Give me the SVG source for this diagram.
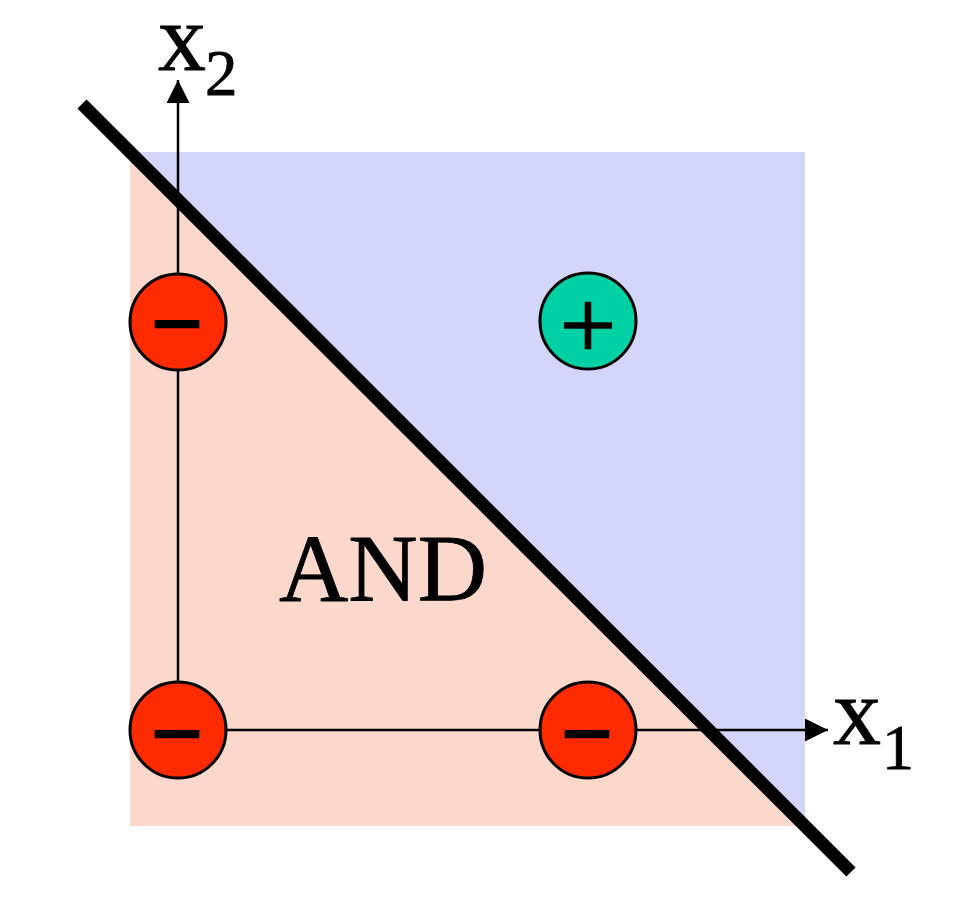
<svg xmlns="http://www.w3.org/2000/svg" width="960" height="918" viewBox="0 0 960 918">
  <defs>
    <marker id="arrow" markerWidth="24" markerHeight="24" refX="23" refY="11.5" orient="auto" markerUnits="userSpaceOnUse">
      <path d="M0,0 L23,11.5 L0,23 Z" fill="#000"/>
    </marker>
    <style>
      .lbl { font-family: "Liberation Serif", "Times New Roman", serif; fill: #000; stroke: #000; stroke-width: 0.8; }
      .neg { fill: #FF2B00; stroke: #000; stroke-width: 3; }
      .pos { fill: #00D1A4; stroke: #000; stroke-width: 3; }
      .axis { stroke: #000; stroke-width: 2.5; fill: none; }
      .sign { font-family: "Liberation Serif", "Times New Roman", serif; fill: #000; text-anchor: middle; stroke: #000; }
    </style>
  </defs>
  <rect width="960" height="918" fill="#fff"/>
  <g id="regions">
    <rect x="130" y="152" width="675" height="674" fill="#D4D5FB"/>
    <polygon points="130,152 130,826 804,826" fill="#FCD8CC"/>
  </g>
  <g id="connectors">
    <line class="axis" x1="178" y1="730" x2="178" y2="80" marker-end="url(#arrow)"/>
    <line class="axis" x1="178" y1="730" x2="828" y2="730" marker-end="url(#arrow)"/>
    <line x1="82" y1="104" x2="851" y2="872" stroke="#000" stroke-width="13"/>
  </g>
  <g id="label-x2">
    <text class="lbl" x="158" y="70" font-size="96">x</text>
    <text class="lbl" x="205" y="95" font-size="65">2</text>
  </g>
  <g id="label-x1">
    <text class="lbl" x="833" y="744" font-size="96">x</text>
    <text class="lbl" x="882" y="769" font-size="64">1</text>
  </g>
  <g id="label-and">
    <text class="lbl" x="279" y="601" font-size="96">AND</text>
  </g>
  <g id="node-neg-01">
    <circle class="neg" cx="178" cy="322" r="48"/>
    <text class="sign" x="177" y="343" font-size="82" font-weight="bold" stroke-width="2.5">–</text>
  </g>
  <g id="node-neg-00">
    <circle class="neg" cx="178" cy="730" r="48"/>
    <text class="sign" x="177" y="753" font-size="82" font-weight="bold" stroke-width="2.5">–</text>
  </g>
  <g id="node-neg-10">
    <circle class="neg" cx="588" cy="730" r="48"/>
    <text class="sign" x="587" y="753" font-size="82" font-weight="bold" stroke-width="2.5">–</text>
  </g>
  <g id="node-pos-11">
    <circle class="pos" cx="588" cy="321" r="48"/>
    <text class="sign" x="588" y="359" font-size="100" stroke-width="1.5">+</text>
  </g>
</svg>
